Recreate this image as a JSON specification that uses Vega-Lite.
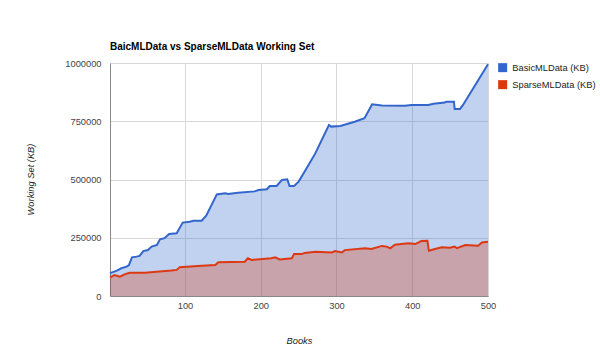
{
  "$schema": "https://vega.github.io/schema/vega-lite/v6.json",
  "width": 378,
  "height": 233,
  "autosize": "none",
  "padding": {"left": 110, "top": 63, "right": 112, "bottom": 64},
  "background": "white",
  "title": {"text": "BaicMLData vs SparseMLData Working Set", "anchor": "start", "frame": "group", "font": "Liberation Sans", "fontSize": 10, "fontWeight": "bold", "color": "#000", "offset": 7},
  "config": {
    "view": {"stroke": null},
    "axis": {"labelFont": "Liberation Sans", "labelFontSize": 9.3, "labelColor": "#444", "titleFont": "Liberation Sans", "titleFontSize": 9.3, "titleFontStyle": "italic", "titleFontWeight": "normal", "titleColor": "#222", "gridColor": "#d8d8d8", "gridOpacity": 1, "ticks": false, "domainColor": "#888"},
    "legend": {"labelFont": "Liberation Sans", "labelFontSize": 9.3, "labelColor": "#222"}
  },
  "data": {"values": [
    {"book": 1, "series": "BasicMLData (KB)", "kb": 98000},
    {"book": 10, "series": "BasicMLData (KB)", "kb": 109000},
    {"book": 16, "series": "BasicMLData (KB)", "kb": 119000},
    {"book": 23, "series": "BasicMLData (KB)", "kb": 126000},
    {"book": 26, "series": "BasicMLData (KB)", "kb": 133000},
    {"book": 30, "series": "BasicMLData (KB)", "kb": 166000},
    {"book": 36, "series": "BasicMLData (KB)", "kb": 169000},
    {"book": 40, "series": "BasicMLData (KB)", "kb": 172000},
    {"book": 45, "series": "BasicMLData (KB)", "kb": 193000},
    {"book": 51, "series": "BasicMLData (KB)", "kb": 197000},
    {"book": 56, "series": "BasicMLData (KB)", "kb": 212000},
    {"book": 63, "series": "BasicMLData (KB)", "kb": 219000},
    {"book": 67, "series": "BasicMLData (KB)", "kb": 243000},
    {"book": 73, "series": "BasicMLData (KB)", "kb": 248000},
    {"book": 79, "series": "BasicMLData (KB)", "kb": 266000},
    {"book": 89, "series": "BasicMLData (KB)", "kb": 269000},
    {"book": 97, "series": "BasicMLData (KB)", "kb": 315000},
    {"book": 106, "series": "BasicMLData (KB)", "kb": 319000},
    {"book": 111, "series": "BasicMLData (KB)", "kb": 323000},
    {"book": 122, "series": "BasicMLData (KB)", "kb": 323000},
    {"book": 128, "series": "BasicMLData (KB)", "kb": 345000},
    {"book": 142, "series": "BasicMLData (KB)", "kb": 436000},
    {"book": 153, "series": "BasicMLData (KB)", "kb": 441000},
    {"book": 157, "series": "BasicMLData (KB)", "kb": 438000},
    {"book": 170, "series": "BasicMLData (KB)", "kb": 443000},
    {"book": 192, "series": "BasicMLData (KB)", "kb": 449000},
    {"book": 197, "series": "BasicMLData (KB)", "kb": 455000},
    {"book": 208, "series": "BasicMLData (KB)", "kb": 458000},
    {"book": 212, "series": "BasicMLData (KB)", "kb": 472000},
    {"book": 221, "series": "BasicMLData (KB)", "kb": 472000},
    {"book": 228, "series": "BasicMLData (KB)", "kb": 498000},
    {"book": 235, "series": "BasicMLData (KB)", "kb": 501000},
    {"book": 238, "series": "BasicMLData (KB)", "kb": 472000},
    {"book": 244, "series": "BasicMLData (KB)", "kb": 472000},
    {"book": 250, "series": "BasicMLData (KB)", "kb": 491000},
    {"book": 258, "series": "BasicMLData (KB)", "kb": 534000},
    {"book": 272, "series": "BasicMLData (KB)", "kb": 612000},
    {"book": 290, "series": "BasicMLData (KB)", "kb": 734000},
    {"book": 293, "series": "BasicMLData (KB)", "kb": 727000},
    {"book": 305, "series": "BasicMLData (KB)", "kb": 730000},
    {"book": 324, "series": "BasicMLData (KB)", "kb": 748000},
    {"book": 337, "series": "BasicMLData (KB)", "kb": 763000},
    {"book": 347, "series": "BasicMLData (KB)", "kb": 823000},
    {"book": 360, "series": "BasicMLData (KB)", "kb": 818000},
    {"book": 390, "series": "BasicMLData (KB)", "kb": 817000},
    {"book": 399, "series": "BasicMLData (KB)", "kb": 820000},
    {"book": 421, "series": "BasicMLData (KB)", "kb": 820000},
    {"book": 428, "series": "BasicMLData (KB)", "kb": 825000},
    {"book": 443, "series": "BasicMLData (KB)", "kb": 830000},
    {"book": 445, "series": "BasicMLData (KB)", "kb": 834000},
    {"book": 455, "series": "BasicMLData (KB)", "kb": 834000},
    {"book": 456, "series": "BasicMLData (KB)", "kb": 803000},
    {"book": 463, "series": "BasicMLData (KB)", "kb": 803000},
    {"book": 467, "series": "BasicMLData (KB)", "kb": 820000},
    {"book": 500, "series": "BasicMLData (KB)", "kb": 995000},
    {"book": 1, "series": "SparseMLData (KB)", "kb": 80000},
    {"book": 7, "series": "SparseMLData (KB)", "kb": 90000},
    {"book": 14, "series": "SparseMLData (KB)", "kb": 83000},
    {"book": 21, "series": "SparseMLData (KB)", "kb": 94000},
    {"book": 27, "series": "SparseMLData (KB)", "kb": 100000},
    {"book": 47, "series": "SparseMLData (KB)", "kb": 100000},
    {"book": 82, "series": "SparseMLData (KB)", "kb": 109000},
    {"book": 89, "series": "SparseMLData (KB)", "kb": 112000},
    {"book": 93, "series": "SparseMLData (KB)", "kb": 123000},
    {"book": 117, "series": "SparseMLData (KB)", "kb": 129000},
    {"book": 140, "series": "SparseMLData (KB)", "kb": 133000},
    {"book": 144, "series": "SparseMLData (KB)", "kb": 145000},
    {"book": 179, "series": "SparseMLData (KB)", "kb": 147000},
    {"book": 183, "series": "SparseMLData (KB)", "kb": 162000},
    {"book": 188, "series": "SparseMLData (KB)", "kb": 155000},
    {"book": 214, "series": "SparseMLData (KB)", "kb": 162000},
    {"book": 219, "series": "SparseMLData (KB)", "kb": 166000},
    {"book": 225, "series": "SparseMLData (KB)", "kb": 157000},
    {"book": 241, "series": "SparseMLData (KB)", "kb": 162000},
    {"book": 244, "series": "SparseMLData (KB)", "kb": 180000},
    {"book": 254, "series": "SparseMLData (KB)", "kb": 180000},
    {"book": 258, "series": "SparseMLData (KB)", "kb": 185000},
    {"book": 272, "series": "SparseMLData (KB)", "kb": 190000},
    {"book": 294, "series": "SparseMLData (KB)", "kb": 187000},
    {"book": 298, "series": "SparseMLData (KB)", "kb": 193000},
    {"book": 307, "series": "SparseMLData (KB)", "kb": 187000},
    {"book": 311, "series": "SparseMLData (KB)", "kb": 197000},
    {"book": 338, "series": "SparseMLData (KB)", "kb": 205000},
    {"book": 346, "series": "SparseMLData (KB)", "kb": 202000},
    {"book": 360, "series": "SparseMLData (KB)", "kb": 215000},
    {"book": 366, "series": "SparseMLData (KB)", "kb": 212000},
    {"book": 371, "series": "SparseMLData (KB)", "kb": 205000},
    {"book": 377, "series": "SparseMLData (KB)", "kb": 220000},
    {"book": 395, "series": "SparseMLData (KB)", "kb": 226000},
    {"book": 404, "series": "SparseMLData (KB)", "kb": 223000},
    {"book": 412, "series": "SparseMLData (KB)", "kb": 236000},
    {"book": 420, "series": "SparseMLData (KB)", "kb": 237000},
    {"book": 422, "series": "SparseMLData (KB)", "kb": 194000},
    {"book": 430, "series": "SparseMLData (KB)", "kb": 202000},
    {"book": 439, "series": "SparseMLData (KB)", "kb": 209000},
    {"book": 450, "series": "SparseMLData (KB)", "kb": 207000},
    {"book": 456, "series": "SparseMLData (KB)", "kb": 212000},
    {"book": 459, "series": "SparseMLData (KB)", "kb": 205000},
    {"book": 470, "series": "SparseMLData (KB)", "kb": 219000},
    {"book": 487, "series": "SparseMLData (KB)", "kb": 216000},
    {"book": 492, "series": "SparseMLData (KB)", "kb": 230000},
    {"book": 500, "series": "SparseMLData (KB)", "kb": 233000}
  ]},
  "encoding": {
    "x": {"field": "book", "type": "quantitative", "title": "Books",
      "scale": {"domain": [1, 500], "nice": false, "zero": false},
      "axis": {"values": [100, 200, 300, 400, 500], "labelPadding": 5, "labelFlush": false, "titleX": 189, "titleY": 44, "titleBaseline": "middle", "domain": true}},
    "y": {"field": "kb", "type": "quantitative", "title": "Working Set (KB)", "stack": null,
      "scale": {"domain": [0, 1000000], "nice": false},
      "axis": {"values": [0, 250000, 500000, 750000, 1000000], "format": "d", "labelPadding": 9, "labelFlush": false, "titleX": -80, "titleY": 116, "titleBaseline": "middle", "titleAngle": -90, "domain": true}},
    "color": {"field": "series", "type": "nominal",
      "scale": {"domain": ["BasicMLData (KB)", "SparseMLData (KB)"], "range": ["#3366CC", "#DC3912"]},
      "legend": {"title": null, "orient": "none", "legendX": 388, "legendY": 0, "padding": 0, "symbolType": "square", "symbolSize": 81, "symbolStrokeWidth": 0, "symbolOpacity": 1, "symbolFillColor": "#3366CC", "labelOffset": 5, "rowPadding": 7, "labelLimit": 200,
        "encode": {"symbols": {"update": {"fill": {"scale": "color", "field": "value"}, "fillOpacity": {"value": 1}, "opacity": {"value": 1}, "strokeWidth": {"value": 0}}}}}}
  },
  "layer": [
    {"mark": {"type": "area", "opacity": 0.3}},
    {"mark": {"type": "line", "strokeWidth": 2}}
  ]
}
